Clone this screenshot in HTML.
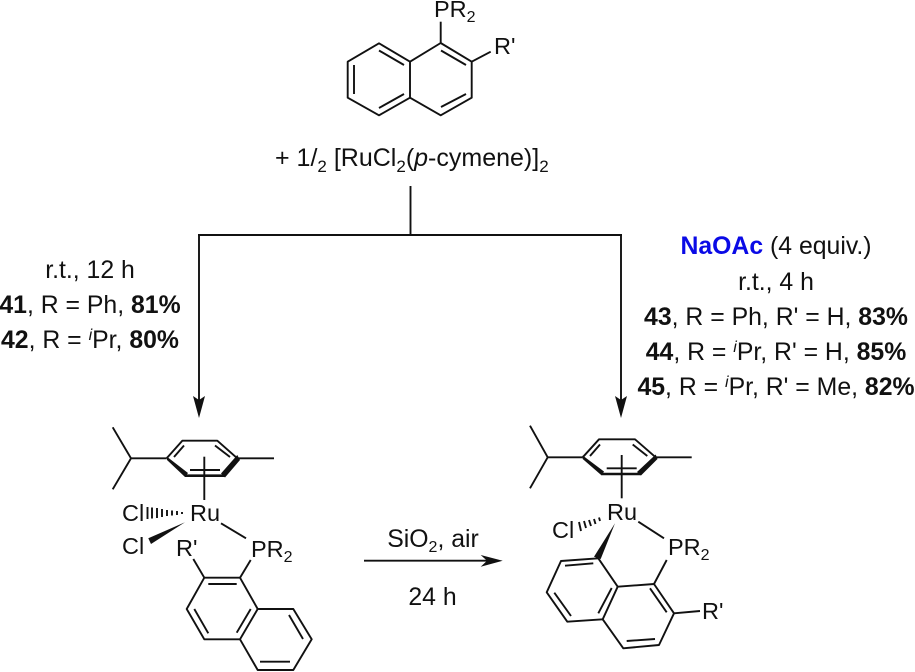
<!DOCTYPE html>
<html><head><meta charset="utf-8"><style>
html,body{margin:0;padding:0;background:#fff}
svg{display:block}
text{font-family:"Liberation Sans",sans-serif;fill:#111}
.c{font-size:24.8px;text-anchor:middle}
.s{font-size:23.5px}
.b{font-weight:bold}
.sub{font-size:16px}
.l line,.l polyline,.l polygon{stroke:#111;stroke-width:1.9;fill:none;stroke-linejoin:round}
</style></head><body>
<svg width="915" height="672" viewBox="0 0 915 672" xmlns="http://www.w3.org/2000/svg">
<g class="l">
<!-- top naphthalene -->
<polygon points="440.7,43 471.7,61.7 471.7,97.7 440.7,115.3 410,97.7 410,61.7"/>
<polyline points="410,61.7 379,43.3 347.7,61.7 347.7,97.7 379,115.3 410,97.7"/>
<line x1="440.7" y1="43" x2="440.7" y2="21.7"/>
<line x1="471.7" y1="61.7" x2="490.7" y2="51.7"/>
<line x1="379" y1="50.5" x2="404" y2="65"/>
<line x1="354" y1="65" x2="354" y2="94"/>
<line x1="379" y1="108" x2="404" y2="94"/>
<line x1="441" y1="50.5" x2="466" y2="65"/>
<line x1="441" y1="107" x2="466" y2="94"/>
<!-- flow -->
<line x1="410.5" y1="186" x2="410.5" y2="235"/>
<line x1="198" y1="235" x2="622" y2="235"/>
<line x1="199" y1="235" x2="199" y2="400"/>
<line x1="621" y1="235" x2="621" y2="400"/>
<line x1="364" y1="560.7" x2="490" y2="560.7"/>
<!-- left complex -->
<polyline points="112.7,427.3 131,458.3 112.7,489.3"/>
<line x1="131" y1="458.3" x2="166.7" y2="458.3"/>
<polyline points="166.7,458.3 182.3,440.7 217.3,440.7 237.3,458.3"/>
<line x1="237.3" y1="458.3" x2="274" y2="458.3"/>
<line x1="174" y1="457" x2="184" y2="445.5"/>
<line x1="215" y1="445.5" x2="230" y2="457"/>
<line x1="204.3" y1="456.7" x2="204.3" y2="500"/>
<line x1="190" y1="470" x2="220" y2="470"/>
<line x1="185" y1="475.7" x2="225" y2="475.7" style="stroke-width:2.6"/>
<line x1="221" y1="523.3" x2="246" y2="538.3"/>
<line x1="250.7" y1="560" x2="240" y2="577.7"/>
<line x1="193.3" y1="559" x2="204.3" y2="577.7"/>
<polygon points="204.3,577.7 240,577.7 257.7,609 240,639.3 204.3,639.3 186.7,609"/>
<polyline points="257.7,609 293.3,609 311.7,639.3 293.3,670 257.7,670 240,639.3"/>
<line x1="208.3" y1="584" x2="236.7" y2="584"/>
<line x1="194.3" y1="609" x2="208.3" y2="633.3"/>
<line x1="236.7" y1="632.7" x2="250.7" y2="609"/>
<line x1="289" y1="615" x2="303" y2="639"/>
<line x1="260" y1="661.7" x2="290" y2="661.7"/>
<!-- right complex -->
<polyline points="530,425.7 547.7,457.3 530,488.3"/>
<line x1="547.7" y1="457.3" x2="582.7" y2="457.3"/>
<polyline points="582.7,457.3 599,439.3 635,439.3 655.7,457.3"/>
<line x1="655.7" y1="457.3" x2="691.7" y2="457.3"/>
<line x1="590" y1="456" x2="600" y2="444.5"/>
<line x1="632.7" y1="444.5" x2="647.3" y2="456"/>
<line x1="621.7" y1="455" x2="621.7" y2="498.3"/>
<line x1="606.7" y1="468.3" x2="636.7" y2="468.3"/>
<line x1="601.7" y1="474" x2="641" y2="474" style="stroke-width:2.6"/>
<line x1="638.3" y1="521.7" x2="664" y2="538.3"/>
<line x1="666.7" y1="560" x2="654" y2="584"/>
<polygon points="617.7,586.7 654,584 674,613.3 659,645 623.3,648.3 602.7,619.3"/>
<polyline points="617.7,586.7 598.3,558.3 561,561 546.7,592.3 567.3,621.7 602.7,619.3"/>
<line x1="565" y1="565.7" x2="593.3" y2="563.3"/>
<line x1="554.3" y1="592.7" x2="571" y2="616"/>
<line x1="598.3" y1="613.3" x2="611.7" y2="588"/>
<line x1="650" y1="588.3" x2="666.7" y2="612.3"/>
<line x1="626.7" y1="641" x2="655" y2="639"/>
<line x1="674" y1="613.3" x2="700" y2="611"/>
<!-- hashed wedges -->
<g style="stroke-width:1.3">
<line x1="147.5" y1="507" x2="147.5" y2="519"/>
<line x1="152" y1="507.5" x2="152" y2="518.5"/>
<line x1="157" y1="508" x2="157" y2="518"/>
<line x1="162" y1="509" x2="162" y2="517"/>
<line x1="167" y1="510" x2="167" y2="516"/>
<line x1="172" y1="510.5" x2="172" y2="515.5"/>
<line x1="177" y1="511" x2="177" y2="515"/>
<line x1="182" y1="512" x2="182" y2="514"/>
<line x1="579" y1="522" x2="581" y2="531"/>
<line x1="584" y1="521" x2="586" y2="528"/>
<line x1="589" y1="520" x2="591" y2="526"/>
<line x1="594" y1="519" x2="595.5" y2="524"/>
<line x1="599" y1="517.5" x2="600" y2="521"/>
</g>
</g>
<!-- filled -->
<g fill="#111">
<polygon points="166.7,456.5 167,460 185,477 188,473"/>
<polygon points="237.3,455 240,460 225,477.5 221,473.5"/>
<polygon points="582.7,455.5 582.7,459 601.7,475.5 604,471.5"/>
<polygon points="655.7,454.5 657.5,459 641,475.5 637,472"/>
<polygon points="185,522.3 148.3,538.3 151,544"/>
<polygon points="615,523.3 594,556.7 600.7,559"/>
<polygon points="193,396 199,400 205,396 199,418"/>
<polygon points="615,396 621,400 627,396 621,418"/>
<polygon points="480.7,555 502.7,560.7 480.7,566.7 487,560.7"/>
</g>
<!-- top labels -->
<text class="s" x="434" y="17">PR<tspan class="sub" dy="5">2</tspan></text>
<text class="s" x="494" y="54">R'</text>
<text x="275" y="166" style="font-size:25px">+ 1/<tspan style="font-size:17px" dy="6">2</tspan><tspan dy="-6"> [RuCl</tspan><tspan style="font-size:17px" dy="6">2</tspan><tspan dy="-6">(</tspan><tspan font-style="italic">p</tspan>-cymene)]<tspan style="font-size:17px" dy="6">2</tspan></text>
<!-- left conditions -->
<text class="c" x="90" y="278">r.t., 12 h</text>
<text class="c" x="90" y="313"><tspan class="b">41</tspan>, R = Ph, <tspan class="b">81%</tspan></text>
<text class="c" x="90" y="348"><tspan class="b">42</tspan>, R = <tspan font-style="italic" style="font-size:16px" dy="-8">i</tspan><tspan dy="8">Pr, </tspan><tspan class="b">80%</tspan></text>
<!-- right conditions -->
<text class="c" x="776" y="254"><tspan class="b" style="fill:#0a0ae6">NaOAc</tspan> (4 equiv.)</text>
<text class="c" x="776" y="290">r.t., 4 h</text>
<text class="c" x="776" y="325"><tspan class="b">43</tspan>, R = Ph, R' = H, <tspan class="b">83%</tspan></text>
<text class="c" x="776" y="360"><tspan class="b">44</tspan>, R = <tspan font-style="italic" style="font-size:16px" dy="-8">i</tspan><tspan dy="8">Pr, R' = H, </tspan><tspan class="b">85%</tspan></text>
<text class="c" x="776" y="395"><tspan class="b">45</tspan>, R = <tspan font-style="italic" style="font-size:16px" dy="-8">i</tspan><tspan dy="8">Pr, R' = Me, </tspan><tspan class="b">82%</tspan></text>
<!-- arrow labels -->
<text class="c" x="433" y="547">SiO<tspan style="font-size:16px" dy="5">2</tspan><tspan dy="-5">, air</tspan></text>
<text class="c" x="432.5" y="605">24 h</text>
<!-- left complex labels -->
<text class="s" x="122" y="521">Cl</text>
<text class="s" x="122" y="554">Cl</text>
<text class="s" x="190" y="521">Ru</text>
<text class="s" x="176" y="556">R'</text>
<text class="s" x="251" y="557">PR<tspan class="sub" dy="5">2</tspan></text>
<!-- right complex labels -->
<text class="s" x="552" y="538">Cl</text>
<text class="s" x="607" y="520">Ru</text>
<text class="s" x="668" y="555">PR<tspan class="sub" dy="5">2</tspan></text>
<text class="s" x="702" y="619">R'</text>
</svg>
</body></html>
